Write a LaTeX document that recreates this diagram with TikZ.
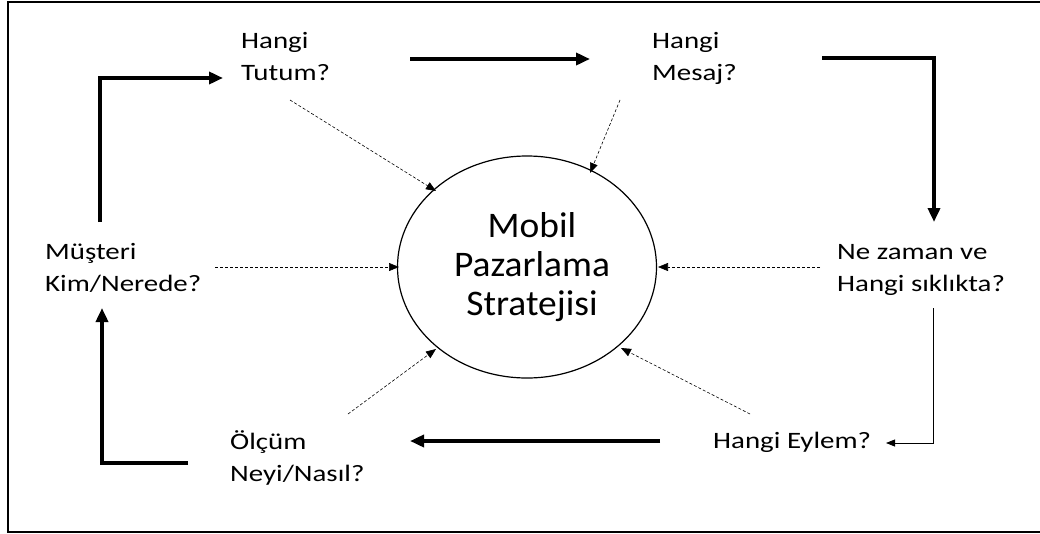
\documentclass[tikz,border=0pt]{standalone}
\usepackage{fontspec}
\setmainfont{Carlito}
\newfontfamily\lblfont[FakeStretch=1.23]{Carlito}
\newfontfamily\ctrfont[FakeStretch=1.04]{Carlito}
\usetikzlibrary{arrows.meta,shapes.geometric}
\begin{document}
\begin{tikzpicture}[x=1pt,y=-1pt,
  lbl/.style={anchor=base west,inner sep=0pt,align=left,font=\lblfont\fontsize{23.5}{32}\selectfont},
  thick arrow/.style={line width=4pt,-{Triangle[length=14pt,width=12pt]}},
  thin arrow/.style={line width=0.8pt,-{Triangle[length=9pt,width=7pt]}},
  dash arrow/.style={line width=0.6pt,dash pattern=on 3pt off 2pt,-{Triangle[length=10pt,width=8pt]}}]
\useasboundingbox (0,0) rectangle (1040,533);
\draw[line width=2pt] (1041,2) -- (8,2) -- (8,532) -- (1041,532);
% centre
\node[draw,line width=1.2pt,ellipse,minimum width=259pt,minimum height=222pt,inner sep=0pt] (c) at (527,267) {};
\node[anchor=base,align=center,font=\ctrfont\fontsize{36}{39}\selectfont,inner sep=0pt] (ct) at (532,315) {Mobil\\Pazarlama\\Stratejisi};
% labels (positioned by last-line baseline)
\node[lbl] (tutum) at (241,80) {Hangi\\Tutum?};
\node[lbl] (mesaj) at (652,80) {Hangi\\Mesaj?};
\node[lbl] (musteri) at (45,291) {Müşteri\\Kim/Nerede?};
\node[lbl] (zaman) at (837,291) {Ne zaman ve\\Hangi sıklıkta?};
\node[lbl] (olcum) at (230,481) {Ölçüm\\Neyi/Nasıl?};
\node[lbl] (eylem) at (713,448) {Hangi Eylem?};
% connector coordinates
\coordinate (a1s) at (100,222); \coordinate (a1c) at (100,78); \coordinate (a1e) at (223,78);
\coordinate (a2s) at (410,59); \coordinate (a2e) at (590,59);
\coordinate (a3s) at (822,58); \coordinate (a3c) at (934,58); \coordinate (a3e) at (934,222);
\coordinate (a4s) at (933,308); \coordinate (a4c) at (933,443); \coordinate (a4e) at (886,443);
\coordinate (a5s) at (660,441); \coordinate (a5e) at (410,441);
\coordinate (a6s) at (188,463); \coordinate (a6c) at (102,463); \coordinate (a6e) at (102,308);
% thick cycle arrows
\draw[thick arrow] (a1s) -- (a1c) -- (a1e);
\draw[thick arrow] (a2s) -- (a2e);
\draw[thick arrow] (a3s) -- (a3c) -- (a3e);
\draw[thin arrow] (a4s) -- (a4c) -- (a4e);
\draw[thick arrow] (a5s) -- (a5e);
\draw[thick arrow] (a6s) -- (a6c) -- (a6e);
% dashed arrows to centre
\coordinate (d1) at (290,100); \coordinate (d1e) at (436,191);
\coordinate (d2) at (620,100); \coordinate (d2e) at (590,173);
\coordinate (d3) at (215,267); \coordinate (d3e) at (399,267);
\coordinate (d4) at (820,267); \coordinate (d4e) at (658,267);
\coordinate (d5) at (348,414); \coordinate (d5e) at (436,349);
\coordinate (d6) at (750,414); \coordinate (d6e) at (621,348);
\draw[dash arrow] (d1) -- (d1e);
\draw[dash arrow] (d2) -- (d2e);
\draw[dash arrow] (d3) -- (d3e);
\draw[dash arrow] (d4) -- (d4e);
\draw[dash arrow] (d5) -- (d5e);
\draw[dash arrow] (d6) -- (d6e);
\end{tikzpicture}
\end{document}
